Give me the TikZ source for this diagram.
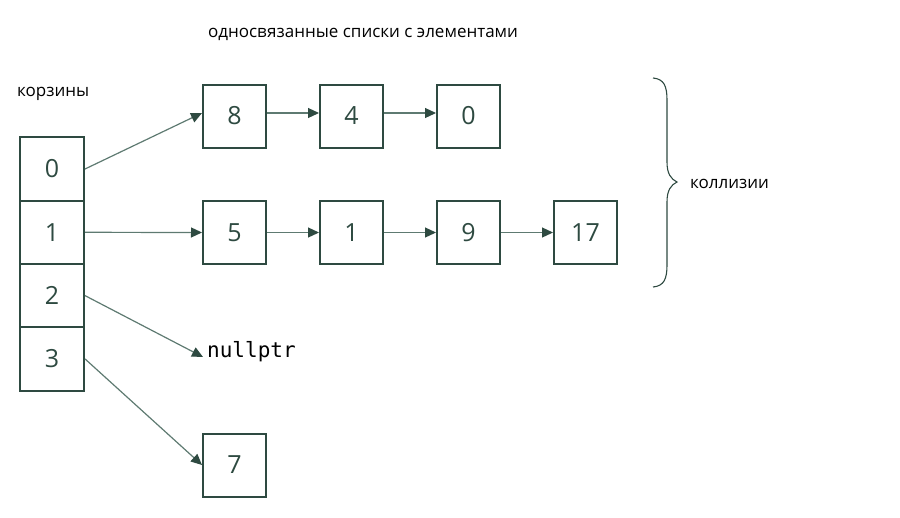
\documentclass[tikz,border=0pt]{standalone}
\usepackage{fontspec}
\setmainfont{Open Sans}
\setmonofont{DejaVu Sans Mono}
\usetikzlibrary{arrows.meta}
\definecolor{boxc}{HTML}{2E4A41}
\definecolor{linec}{HTML}{5E7A71}
\tikzset{
  cell/.style={draw=boxc, line width=2pt, minimum width=63pt, minimum height=63pt, inner sep=0pt, text=boxc, font=\fontsize{25}{25}\selectfont},
  bucket/.style={cell, minimum width=64pt, minimum height=63.3pt},
  conn/.style={draw=linec, line width=1.2pt, -{Triangle[length=11pt,width=10pt,color=boxc]}},
  lbl/.style={font=\fontsize{17}{17}\selectfont, text=black, inner sep=0pt},
  bracec/.style={draw=boxc, line width=1.1pt}
}
\begin{document}
\begin{tikzpicture}[x=1pt,y=-1pt]
\useasboundingbox (0,0) rectangle (900,517);
% buckets
\node[bucket] (b0) at (52,169) {0};
\node[bucket] (b1) at (52,232.3) {1};
\node[bucket] (b2) at (52,295.6) {2};
\node[bucket] (b3) at (52,358.9) {3};
% list 0
\node[cell] (n8) at (234.5,116) {8};
\node[cell] (n4) at (351.5,116) {4};
\node[cell] (n0) at (468.5,116) {0};
% list 1
\node[cell] (n5) at (234.5,232.5) {5};
\node[cell] (n1) at (351.5,232.5) {1};
\node[cell] (n9) at (468.5,232.5) {9};
\node[cell] (n17) at (585.5,232.5) {17};
% list 3
\node[cell] (n7) at (234.5,465) {7};
% nullptr
\node[font=\ttfamily\fontsize{21}{21}\selectfont, text=black, anchor=west, inner sep=0pt] (np) at (207,352) {nullptr};
% labels
\node[lbl] (title) at (363,34) {односвязанные списки с элементами};
\node[lbl, anchor=west] (korz) at (17,94) {корзины};
\node[lbl, anchor=west] (koll) at (690,184) {коллизии};
% arrows
\draw[conn] (b0.east) -- ([yshift=3pt]n8.west);
\draw[conn] ([yshift=3pt]n8.east) -- ([yshift=3pt]n4.west);
\draw[conn] ([yshift=3pt]n4.east) -- ([yshift=3pt]n0.west);
\draw[conn] (b1.east) -- (n5.west);
\draw[conn] (n5.east) -- (n1.west);
\draw[conn] (n1.east) -- (n9.west);
\draw[conn] (n9.east) -- (n17.west);
\draw[conn] (b2.east) -- ([xshift=-4pt,yshift=-5pt]np.west);
\draw[conn] (b3.east) -- (n7.west);
% brace
\coordinate (bt) at (653,78);
\coordinate (bm) at (677,182);
\coordinate (bb) at (653,287);
\draw[bracec] (bt) .. controls (664,79) and (667,86) .. (667,100)
  -- (667,162) .. controls (667,174) and (671,179) .. (bm)
  .. controls (671,185) and (667,190) .. (667,202)
  -- (667,265) .. controls (667,279) and (664,286) .. (bb);
\end{tikzpicture}
\end{document}
